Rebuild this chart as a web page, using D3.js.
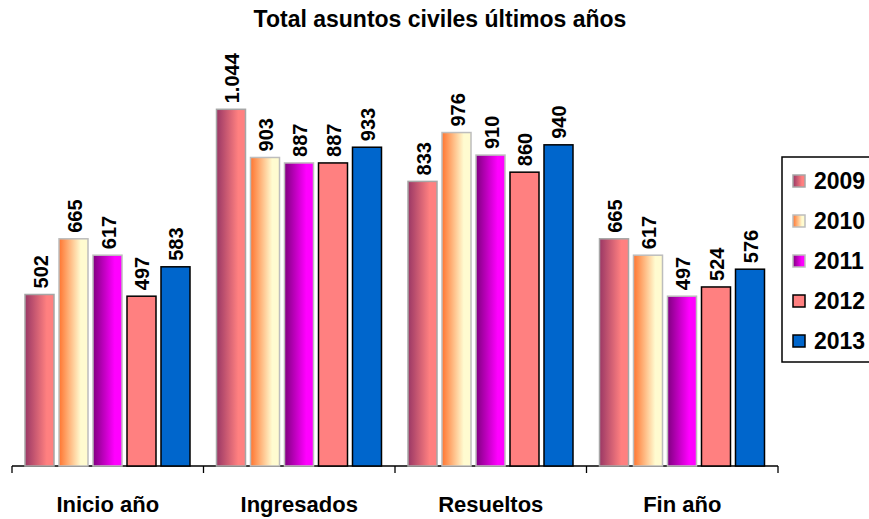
<!DOCTYPE html>
<html><head><meta charset="utf-8">
<script src="https://cdn.jsdelivr.net/npm/d3@7"></script>
<style>body{margin:0;background:#fff}svg{display:block}</style>
</head><body><svg id="c" width="869" height="519"></svg>
<script>
const categories = ["Inicio año", "Ingresados", "Resueltos", "Fin año"];
const years = ["2009", "2010", "2011", "2012", "2013"];
const v2009 = [502, 1044, 833, 665];
const v2010 = [665, 903, 976, 617];
const v2011 = [617, 887, 910, 497];
const v2012 = [497, 887, 860, 524];
const v2013 = [583, 933, 940, 576];
const seriesValues = [v2009, v2010, v2011, v2012, v2013];
const title = "Total asuntos civiles últimos años";

const fills = [
  {grad: ["#9a3765", "#ff8080"], stroke: "#a6a6a6"},
  {grad: ["#ff7530", "#fffbd0"], stroke: "#bdbdbd"},
  {grad: ["#800080", "#ff00ff"], stroke: "#bdbdbd"},
  {solid: "#ff8080", stroke: "#000"},
  {solid: "#0066cc", stroke: "#000"}
];

const svg = d3.select("#c");
const font = "'Liberation Sans', Arial, sans-serif";
const defs = svg.append("defs");
fills.forEach((f, i) => {
  if (f.grad) {
    const g = defs.append("linearGradient").attr("id", "g" + i)
      .attr("x1", "0").attr("x2", "1").attr("y1", "0").attr("y2", "0");
    g.append("stop").attr("offset", "0").attr("stop-color", f.grad[0]);
    g.append("stop").attr("offset", "0.75").attr("stop-color", f.grad[1]);
    g.append("stop").attr("offset", "1").attr("stop-color", f.grad[1]);
  }
});
const fillOf = i => fills[i].grad ? `url(#g${i})` : fills[i].solid;

const x0 = d3.scaleBand().domain(categories).range([12, 778]).padding(0);
const x1 = d3.scaleBand().domain(years).range([13, 178]).paddingInner(0.147).paddingOuter(0);
const y = d3.scaleLinear().domain([0, 1200]).range([466, 56]);

const fmt = d3.formatLocale({decimal: ",", thousands: ".", grouping: [3], currency: ["", ""]}).format(",d");

// axis
const axis = svg.append("g").attr("transform", "translate(0,466)")
  .call(d3.axisBottom(x0).tickSize(0).tickFormat(""));
axis.select(".domain").remove();
axis.append("line").attr("x1", 12).attr("x2", 778).attr("y1", 0).attr("y2", 0)
  .attr("stroke", "#000").attr("stroke-width", 1.3);
const tickPos = categories.map(c => x0(c)).concat([x0.range()[1]]);
axis.selectAll(".tk").data(tickPos).join("line").attr("class", "tk")
  .attr("x1", d => d).attr("x2", d => d).attr("y1", 0).attr("y2", 7)
  .attr("stroke", "#000").attr("stroke-width", 1.3);

// bars
const rows = [];
categories.forEach((c, ci) => years.forEach((yr, si) => rows.push({c, yr, si, v: seriesValues[si][ci]})));

svg.append("g").selectAll("rect").data(rows).join("rect")
  .attr("x", d => x0(d.c) + x1(d.yr))
  .attr("y", d => y(d.v))
  .attr("width", x1.bandwidth())
  .attr("height", d => y(0) - y(d.v))
  .attr("fill", d => fillOf(d.si))
  .attr("stroke", d => fills[d.si].stroke)
  .attr("stroke-width", 1.5);

svg.append("g").selectAll("text").data(rows).join("text")
  .attr("transform", d => `translate(${x0(d.c) + x1(d.yr) + x1.bandwidth() / 2 + 8},${y(d.v) - 6}) rotate(-90)`)
  .attr("font-family", font).attr("font-weight", "bold").attr("font-size", 20)
  .attr("fill", "#000")
  .text(d => fmt(d.v));

// category labels
svg.append("g").selectAll("text").data(categories).join("text")
  .attr("x", d => x0(d) + x0.bandwidth() / 2)
  .attr("y", 512)
  .attr("text-anchor", "middle")
  .attr("font-family", font).attr("font-weight", "bold").attr("font-size", 22)
  .text(d => d);

// title
svg.append("text").attr("x", 440).attr("y", 27).attr("text-anchor", "middle")
  .attr("font-family", font).attr("font-weight", "bold").attr("font-size", 23)
  .text(title);

// legend
const lg = svg.append("g");
lg.append("rect").attr("x", 782).attr("y", 157).attr("width", 120).attr("height", 205)
  .attr("fill", "#fff").attr("stroke", "#000").attr("stroke-width", 1.5);
const li = lg.selectAll("g").data(years).join("g")
  .attr("transform", (d, i) => `translate(0,${181 + i * 40})`);
li.append("rect").attr("x", 793).attr("y", -6).attr("width", 12).attr("height", 12)
  .attr("fill", (d, i) => fillOf(i)).attr("stroke", (d, i) => fills[i].stroke).attr("stroke-width", 1.5);
li.append("text").attr("x", 814).attr("y", 8)
  .attr("font-family", font).attr("font-weight", "bold").attr("font-size", 23)
  .text(d => d);
</script></body></html>
